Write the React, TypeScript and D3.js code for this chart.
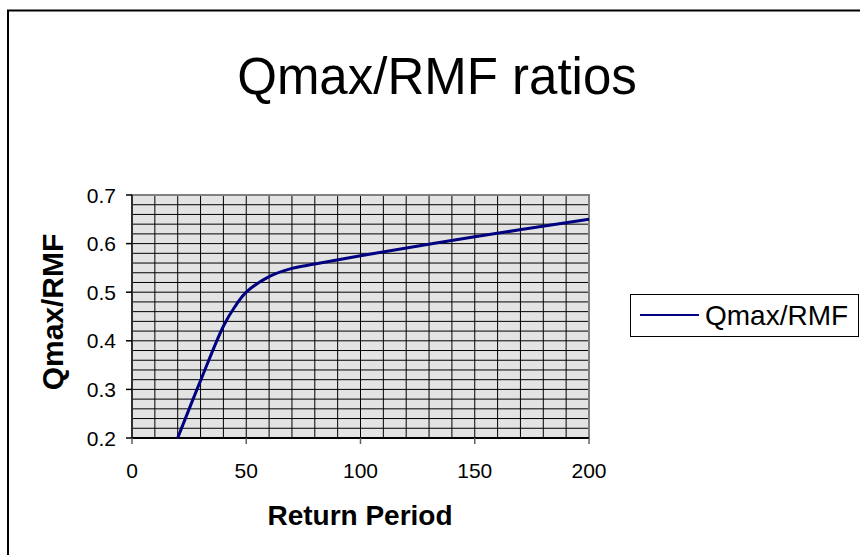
import React from "react";
import * as d3 from "d3";

const returnPeriod = [20, 30, 40, 45, 50, 60, 70, 80, 100, 150, 200];
const ratio = [0.2, 0.318, 0.43, 0.47, 0.5, 0.532, 0.549, 0.558, 0.575, 0.614, 0.65];
const xTicks = [0, 50, 100, 150, 200];
const yTicks = [0.2, 0.3, 0.4, 0.5, 0.6, 0.7];
const title = "Qmax/RMF ratios";
const seriesName = "Qmax/RMF";
const xLabel = "Return Period";
const yLabel = "Qmax/RMF";

export default function App() {
  const W = 860, H = 555;
  const L = 132, R = 589, T = 195, B = 438;
  const x = d3.scaleLinear().domain([0, 200]).range([L, R]);
  const y = d3.scaleLinear().domain([0.2, 0.7]).range([B, T]);
  const minorX = d3.range(10, 200, 10);
  const minorY = d3.range(0.22, 0.7, 0.02);
  const pts = returnPeriod.map((d, i) => [d, ratio[i]] as [number, number]);
  const line = d3.line<[number, number]>().x(d => x(d[0])).y(d => y(d[1])).curve(d3.curveCatmullRom.alpha(0.5));
  const font = "Arial, 'Liberation Sans', sans-serif";
  return (
    <svg width={W} height={H} style={{ position: "fixed", left: 0, top: 0, display: "block", background: "#fff" }} fontFamily={font}>
      <rect x={8} y={10.5} width={900} height={600} fill="#fff" stroke="#000" strokeWidth={2} />
      <text x={437} y={94} textAnchor="middle" fontSize={51}>{title}</text>
      <rect x={L} y={T} width={R - L} height={B - T} fill="#e3e3e3" />
      {minorY.map((v, i) => (
        <line key={"hy" + i} x1={L} x2={R} y1={y(v)} y2={y(v)} stroke="#000" strokeWidth={1} />
      ))}
      {minorX.map((v, i) => (
        <line key={"vx" + i} x1={x(v)} x2={x(v)} y1={T} y2={B} stroke="#000" strokeWidth={1} />
      ))}
      <rect x={L} y={T} width={R - L} height={B - T} fill="none" stroke="#808080" strokeWidth={2} />
      <line x1={L} x2={L} y1={T} y2={B} stroke="#303030" strokeWidth={2} />
      <line x1={L} x2={R} y1={B} y2={B} stroke="#000" strokeWidth={2} />
      {yTicks.map((v, i) => (
        <g key={"yt" + i}>
          <line x1={L - 6} x2={L} y1={y(v)} y2={y(v)} stroke="#000" strokeWidth={1.5} />
          <text x={116} y={y(v) + 7.5} textAnchor="end" fontSize={21}>{v.toFixed(1)}</text>
        </g>
      ))}
      {xTicks.map((v, i) => (
        <g key={"xt" + i}>
          <line x1={x(v)} x2={x(v)} y1={B} y2={B + 6} stroke="#606060" strokeWidth={1.5} />
          <text x={x(v)} y={478} textAnchor="middle" fontSize={21}>{v}</text>
        </g>
      ))}
      <path d={line(pts) || ""} fill="none" stroke="#000080" strokeWidth={3} />
      <text x={360} y={525} textAnchor="middle" fontSize={28} fontWeight="bold">{xLabel}</text>
      <text transform={`translate(63,312) rotate(-90)`} textAnchor="middle" fontSize={30} fontWeight="bold">{yLabel}</text>
      <rect x={630.5} y={294.5} width={228} height={42} fill="#fff" stroke="#000" strokeWidth={1} />
      <line x1={640} x2={699} y1={315} y2={315} stroke="#000080" strokeWidth={2} />
      <text x={705} y={325} fontSize={28}>{seriesName}</text>
    </svg>
  );
}
